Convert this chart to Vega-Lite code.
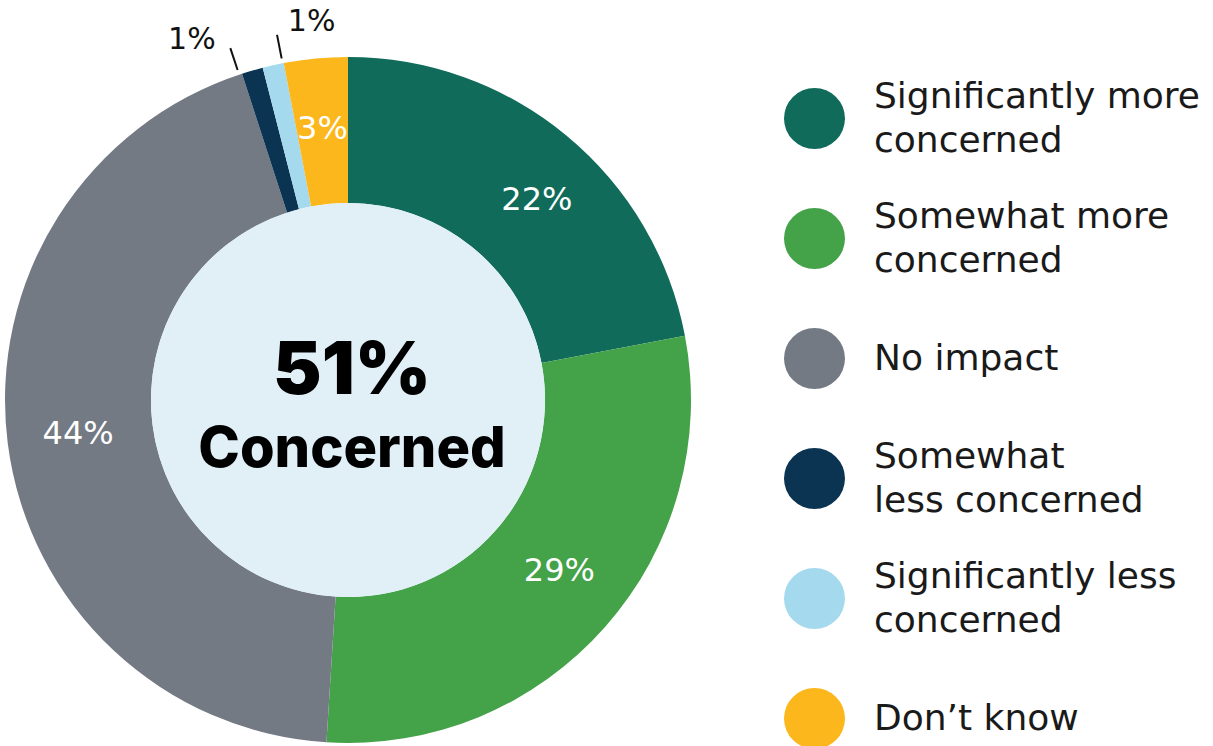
{
  "$schema": "https://vega.github.io/schema/vega-lite/v6.json",
  "width": 696,
  "height": 692,
  "autosize": {"type": "none"},
  "padding": {"top": 54, "left": 0, "right": 517, "bottom": 0},
  "background": "white",
  "config": {
    "view": {"stroke": null},
    "style": {"guide-label": {"lineHeight": 22, "dy": -22}}
  },
  "data": {
    "values": [
      {"category": "Significantly more concerned", "value": 22, "order": 1},
      {"category": "Somewhat more concerned", "value": 29, "order": 2},
      {"category": "No impact", "value": 44, "order": 3},
      {"category": "Somewhat less concerned", "value": 1, "order": 4},
      {"category": "Significantly less concerned", "value": 1, "order": 5},
      {"category": "Don’t know", "value": 3, "order": 6}
    ]
  },
  "layer": [
    {
      "mark": {"type": "arc", "outerRadius": 343, "innerRadius": 197},
      "encoding": {
        "theta": {"field": "value", "type": "quantitative", "stack": true},
        "order": {"field": "order", "type": "quantitative", "sort": "ascending"},
        "color": {
          "field": "category",
          "type": "nominal",
          "scale": {
            "domain": ["Significantly more concerned", "Somewhat more concerned", "No impact", "Somewhat less concerned", "Significantly less concerned", "Don’t know"],
            "range": ["#106B5A", "#44A249", "#747A84", "#0A3452", "#A5DAEE", "#FBB71B"]
          },
          "legend": {
            "title": null,
            "orient": "none",
            "legendX": 784,
            "legendY": 34,
            "symbolType": "circle",
            "symbolSize": 3721,
            "symbolStrokeWidth": 0,
            "symbolOpacity": 1,
            "labelFont": "DejaVu Sans",
            "labelFontSize": 36,
            "labelColor": "#1a1a1a",
            "labelOffset": 29,
            "labelLimit": 450,
            "rowPadding": 39,
            "gridAlign": "all",
            "labelExpr": "({'Significantly more concerned': ['Significantly more', '\u2800', 'concerned'], 'Somewhat more concerned': ['Somewhat more', '\u2800', 'concerned'], 'Somewhat less concerned': ['Somewhat', '\u2800', 'less concerned'], 'Significantly less concerned': ['Significantly less', '\u2800', 'concerned']})[datum.label] || ['\u2800', datum.label]"
          }
        }
      }
    },
    {
      "data": {"values": [{"shape": "center"}]},
      "mark": {"type": "arc", "radius": 197, "theta": 0, "theta2": 6.2832, "color": "#E1EFF7"},
      "encoding": {}
    },
    {
      "transform": [{"calculate": "datum.value + '%'", "as": "pct"}],
      "mark": {"type": "text", "radius": 275, "thetaOffset": 0.066, "font": "DejaVu Sans", "fontSize": 32, "color": "white", "align": "center", "baseline": "middle"},
      "encoding": {
        "theta": {"field": "value", "type": "quantitative", "stack": true},
        "order": {"field": "order", "type": "quantitative", "sort": "ascending"},
        "text": {"condition": {"test": "datum.category == 'Significantly more concerned'", "field": "pct"}, "value": ""}
      }
    },
    {
      "transform": [{"calculate": "datum.value + '%'", "as": "pct"}],
      "mark": {"type": "text", "radius": 272, "thetaOffset": -0.042, "font": "DejaVu Sans", "fontSize": 32, "color": "white", "align": "center", "baseline": "middle"},
      "encoding": {
        "theta": {"field": "value", "type": "quantitative", "stack": true},
        "order": {"field": "order", "type": "quantitative", "sort": "ascending"},
        "text": {"condition": {"test": "datum.category == 'Somewhat more concerned'", "field": "pct"}, "value": ""}
      }
    },
    {
      "transform": [{"calculate": "datum.value + '%'", "as": "pct"}],
      "mark": {"type": "text", "radius": 272, "font": "DejaVu Sans", "fontSize": 32, "color": "white", "align": "center", "baseline": "middle"},
      "encoding": {
        "theta": {"field": "value", "type": "quantitative", "stack": true},
        "order": {"field": "order", "type": "quantitative", "sort": "ascending"},
        "text": {"condition": {"test": "datum.category == 'No impact' || datum.category == 'Don’t know'", "field": "pct"}, "value": ""}
      }
    },
    {
      "transform": [{"calculate": "datum.value + '%'", "as": "pct"}],
      "mark": {"type": "text", "radius": 392, "thetaOffset": -0.127, "font": "DejaVu Sans", "fontSize": 30, "color": "#111", "align": "center", "baseline": "middle"},
      "encoding": {
        "theta": {"field": "value", "type": "quantitative", "stack": true},
        "order": {"field": "order", "type": "quantitative", "sort": "ascending"},
        "text": {"condition": {"test": "datum.category == 'Somewhat less concerned'", "field": "pct"}, "value": ""}
      }
    },
    {
      "transform": [{"calculate": "datum.value + '%'", "as": "pct"}],
      "mark": {"type": "text", "radius": 380, "thetaOffset": 0.124, "font": "DejaVu Sans", "fontSize": 30, "color": "#111", "align": "center", "baseline": "middle"},
      "encoding": {
        "theta": {"field": "value", "type": "quantitative", "stack": true},
        "order": {"field": "order", "type": "quantitative", "sort": "ascending"},
        "text": {"condition": {"test": "datum.category == 'Significantly less concerned'", "field": "pct"}, "value": ""}
      }
    },
    {
      "mark": {"type": "arc", "outerRadius": 371, "innerRadius": 348, "thetaOffset": -0.04, "padAngle": 0.5, "fill": "transparent", "stroke": "#111", "strokeWidth": 2},
      "encoding": {
        "theta": {"field": "value", "type": "quantitative", "stack": true},
        "order": {"field": "order", "type": "quantitative", "sort": "ascending"},
        "opacity": {"condition": {"test": "datum.category == 'Somewhat less concerned'", "value": 1}, "value": 0}
      }
    },
    {
      "mark": {"type": "arc", "outerRadius": 372, "innerRadius": 348, "thetaOffset": 0.028, "padAngle": 0.5, "fill": "transparent", "stroke": "#111", "strokeWidth": 2},
      "encoding": {
        "theta": {"field": "value", "type": "quantitative", "stack": true},
        "order": {"field": "order", "type": "quantitative", "sort": "ascending"},
        "opacity": {"condition": {"test": "datum.category == 'Significantly less concerned'", "value": 1}, "value": 0}
      }
    },
    {
      "data": {"values": [{"headline": "51%"}]},
      "mark": {"type": "text", "font": "Inter", "fontWeight": 900, "fontSize": 73, "color": "#000", "align": "center", "baseline": "middle", "dy": -28, "dx": 4},
      "encoding": {"text": {"field": "headline"}}
    },
    {
      "data": {"values": [{"sub": "Concerned"}]},
      "mark": {"type": "text", "font": "Inter", "fontWeight": 800, "fontSize": 56, "color": "#000", "align": "center", "baseline": "middle", "dy": 50, "dx": 4},
      "encoding": {"text": {"field": "sub"}}
    }
  ]
}
